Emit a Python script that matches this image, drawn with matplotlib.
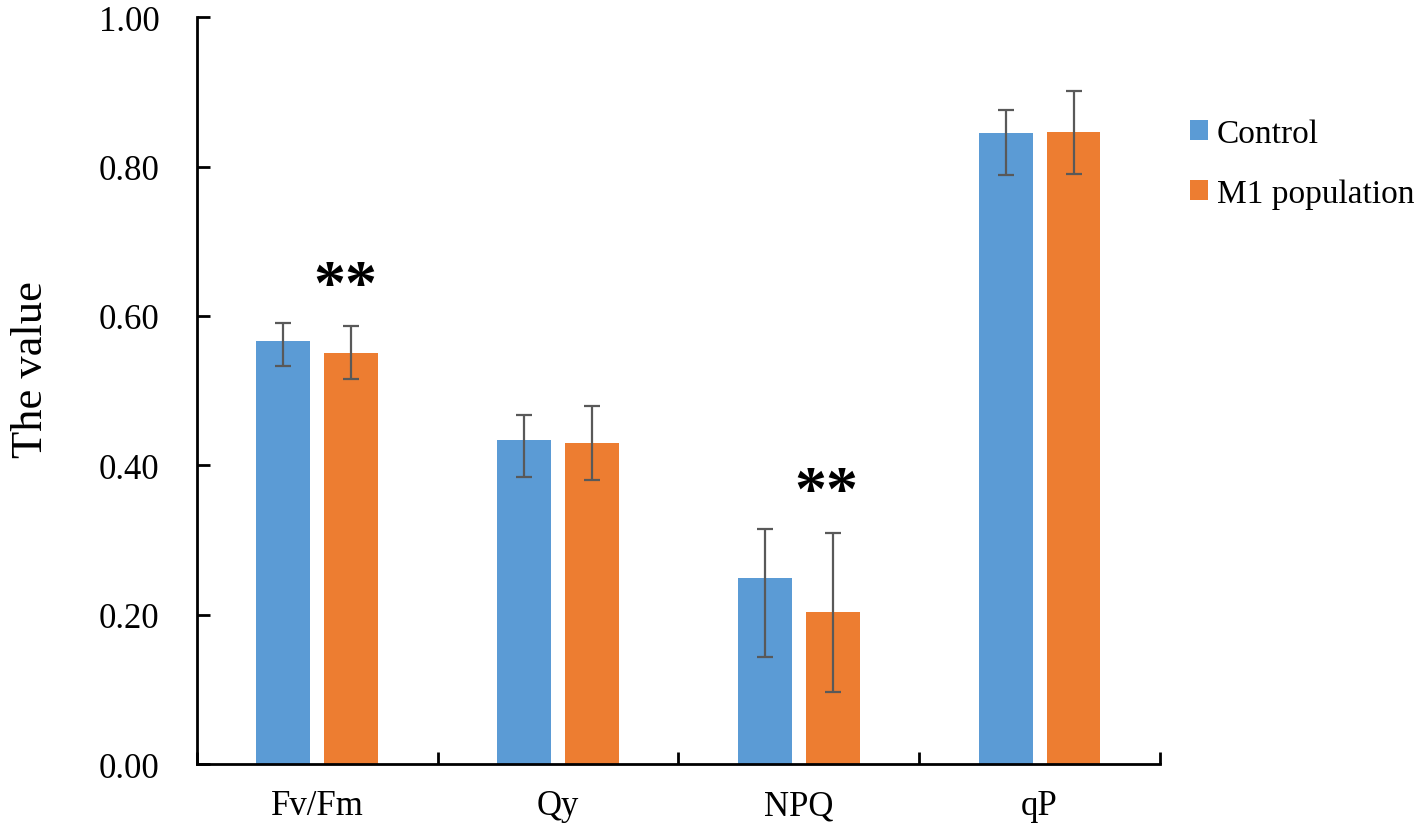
import matplotlib.pyplot as plt
import numpy as np

plt.rcParams['font.family'] = ['Liberation Serif', 'DejaVu Serif']

# values (error bars are not symmetric in the original)
params = ["Fv/Fm", "Qy", "NPQ", "qP"]
control = [0.567, 0.434, 0.249, 0.845]
control_lo = [0.034, 0.050, 0.106, 0.056]
control_hi = [0.023, 0.033, 0.066, 0.031]
m1 = [0.551, 0.430, 0.203, 0.846]
m1_lo = [0.035, 0.050, 0.106, 0.056]
m1_hi = [0.035, 0.050, 0.106, 0.055]
stars = ["**", "", "**", ""]

x = np.arange(len(params))
w = 0.224
off = 0.141

fig = plt.figure(figsize=(14.17, 8.28), dpi=100)
ax = fig.add_axes([0.139, 0.076, 0.6796, 0.902])

ekw = dict(ecolor="#595959", elinewidth=1.6, capthick=1.6, capsize=6)
ax.bar(x - off, control, w, yerr=[control_lo, control_hi], color="#5B9BD5",
       label="Control", error_kw=ekw, zorder=2)
ax.bar(x + off, m1, w, yerr=[m1_lo, m1_hi], color="#ED7D31",
       label="M1 population", error_kw=ekw, zorder=2)

# significance marks
for i, s in enumerate(stars):
    if s:
        top = m1[i] + m1_hi[i]
        ax.text(x[i] + off - 0.025, top + 0.052, s, ha="center",
                va="center", fontsize=46, fontweight="bold")

ax.set_xlim(-0.5, len(params) - 0.5)
ax.set_ylim(0, 1.0)
ax.set_yticks(np.arange(0, 1.01, 0.2))
ax.set_yticklabels([f"{v:.2f}" for v in np.arange(0, 1.01, 0.2)])
ax.set_xticks(np.arange(-0.5, len(params), 1.0))
ax.set_xticklabels([])
ax.set_xticks(x, minor=True)
ax.set_xticklabels(params, minor=True)
ax.tick_params(axis="x", which="major", direction="in", length=9, width=2)
ax.tick_params(axis="x", which="minor", length=0, pad=18, labelsize=25)
ax.tick_params(axis="y", direction="in", length=9, width=2, pad=27, labelsize=25)

for sp in ["top", "right"]:
    ax.spines[sp].set_visible(False)
for sp in ["left", "bottom"]:
    ax.spines[sp].set_linewidth(2)

ax.set_ylabel("The value", fontsize=32)
ax.yaxis.set_label_coords(-0.152, 0.529)

ax.legend(loc="upper left", bbox_to_anchor=(1.0, 0.905), frameon=False,
          fontsize=24, handlelength=0.55, handleheight=0.55, handletextpad=0.25,
          labelspacing=0.9)

fig.savefig("out.png", dpi=100)
